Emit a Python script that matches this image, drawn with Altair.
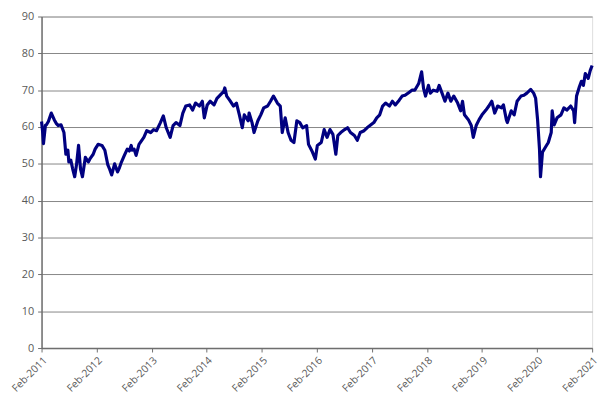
import altair as alt
import pandas as pd

# decimal years (Feb-2011 = 2011.083)
years = [
    2011.083, 2011.101, 2011.118, 2011.154, 2011.172, 2011.207, 2011.260, 2011.313, 2011.349, 2011.384,
    2011.437, 2011.490, 2011.525, 2011.561, 2011.579, 2011.614, 2011.649, 2011.685, 2011.720, 2011.755,
    2011.791, 2011.826, 2011.879, 2011.933, 2011.968, 2012.021, 2012.056, 2012.110, 2012.180, 2012.233,
    2012.287, 2012.322, 2012.357, 2012.410, 2012.464, 2012.499, 2012.534, 2012.587, 2012.640, 2012.676,
    2012.711, 2012.729, 2012.764, 2012.800, 2012.853, 2012.941, 2012.994, 2013.065, 2013.118, 2013.171,
    2013.242, 2013.295, 2013.348, 2013.419, 2013.472, 2013.525, 2013.596, 2013.649, 2013.702, 2013.773,
    2013.826, 2013.879, 2013.950, 2014.003, 2014.039, 2014.092, 2014.145, 2014.216, 2014.269, 2014.322,
    2014.393, 2014.411, 2014.446, 2014.499, 2014.570, 2014.623, 2014.676, 2014.729, 2014.765, 2014.836,
    2014.853, 2014.906, 2014.942, 2015.012, 2015.065, 2015.118, 2015.189, 2015.242, 2015.295, 2015.366,
    2015.419, 2015.455, 2015.508, 2015.561, 2015.614, 2015.667, 2015.720, 2015.773, 2015.826, 2015.897,
    2015.932, 2016.003, 2016.056, 2016.092, 2016.163, 2016.216, 2016.269, 2016.322, 2016.375, 2016.428,
    2016.464, 2016.517, 2016.588, 2016.641, 2016.694, 2016.765, 2016.818, 2016.871, 2016.941, 2016.995,
    2017.048, 2017.118, 2017.171, 2017.225, 2017.278, 2017.331, 2017.402, 2017.455, 2017.508, 2017.579,
    2017.632, 2017.685, 2017.756, 2017.809, 2017.862, 2017.933, 2017.986, 2018.021, 2018.057, 2018.110,
    2018.145, 2018.198, 2018.269, 2018.304, 2018.357, 2018.410, 2018.464, 2018.517, 2018.570, 2018.641,
    2018.694, 2018.729, 2018.764, 2018.835, 2018.888, 2018.924, 2018.977, 2019.030, 2019.083, 2019.154,
    2019.207, 2019.260, 2019.313, 2019.366, 2019.437, 2019.472, 2019.525, 2019.543, 2019.614, 2019.667,
    2019.720, 2019.791, 2019.844, 2019.897, 2019.968, 2020.021, 2020.057, 2020.092, 2020.127, 2020.145,
    2020.181, 2020.234, 2020.287, 2020.340, 2020.357, 2020.393, 2020.446, 2020.517, 2020.570, 2020.623,
    2020.694, 2020.747, 2020.765, 2020.800, 2020.853, 2020.888, 2020.924, 2020.959, 2021.012, 2021.048,
    2021.083,
]

values = [
    61.5, 59.0, 55.5, 60.5, 60.6, 61.5, 63.8, 62.0, 61.0, 60.4,
    60.6, 58.5, 52.6, 53.7, 50.5, 51.0, 48.6, 46.5, 50.0, 55.0,
    48.6, 46.5, 51.8, 50.5, 51.5, 52.6, 54.0, 55.3, 55.0, 53.7,
    49.7, 48.5, 47.0, 50.0, 47.8, 49.0, 50.5, 52.3, 54.0, 53.5,
    55.0, 53.7, 54.0, 52.3, 55.3, 57.2, 59.0, 58.5, 59.3, 59.0,
    61.2, 63.0, 59.8, 57.2, 60.4, 61.2, 60.4, 63.8, 65.7, 66.0,
    64.6, 66.5, 65.7, 67.0, 62.5, 66.0, 67.0, 66.0, 67.8, 68.6,
    69.7, 70.6, 68.4, 67.3, 65.7, 66.5, 63.3, 59.8, 63.3, 61.7,
    63.8, 61.2, 58.5, 61.7, 63.3, 65.2, 65.7, 67.0, 68.4, 66.5,
    65.7, 58.5, 62.5, 58.5, 56.4, 55.8, 61.7, 61.2, 59.8, 60.4,
    55.3, 53.2, 51.3, 55.0, 55.8, 59.3, 57.2, 59.3, 58.0, 52.6,
    57.7, 58.5, 59.3, 59.8, 58.5, 57.7, 56.4, 58.5, 59.0, 59.8,
    60.4, 61.2, 62.5, 63.3, 65.7, 66.5, 65.7, 67.0, 66.0, 67.3,
    68.4, 68.6, 69.4, 70.0, 70.0, 71.8, 75.0, 70.5, 68.4, 71.3,
    69.2, 70.0, 69.7, 71.3, 69.2, 67.0, 69.2, 67.0, 68.4, 66.5,
    64.4, 67.0, 63.3, 62.0, 60.4, 57.2, 60.4, 62.0, 63.3, 64.6,
    65.7, 67.0, 63.8, 65.7, 65.2, 66.0, 62.0, 61.2, 64.4, 63.3,
    67.0, 68.4, 68.6, 69.2, 70.2, 69.2, 67.8, 62.0, 54.0, 46.5,
    53.2, 54.5, 55.8, 58.5, 64.4, 60.6, 62.5, 63.3, 65.2, 64.6,
    65.7, 64.4, 61.2, 68.4, 71.0, 72.4, 71.3, 74.5, 73.2, 75.3,
    76.7,
]

tick_years = [2011.083 + i for i in range(11)]
y_ticks = list(range(0, 100, 10))

df = pd.DataFrame({"t": years, "v": values})

FONT = "Open Sans"
LABEL = "#595959"
GRID = "#868686"
AXIS = "#6e6e6e"

chart = alt.Chart(df).mark_line(color="#000080", strokeWidth=3.2, strokeJoin="round").encode(
    x=alt.X(
        "t:Q",
        scale=alt.Scale(domain=[tick_years[0], tick_years[-1]], nice=False, zero=False),
        axis=alt.Axis(
            title=None,
            values=tick_years,
            labelExpr="'Feb-' + floor(datum.value)",
            labelAngle=-45,
            labelAlign="right",
            labelBaseline="top",
            labelPadding=3,
            labelFont=FONT,
            labelFontSize=10.5,
            labelColor=LABEL,
            labelOverlap=False,
            grid=False,
            domainColor=AXIS,
            domainWidth=1.5,
            tickColor=AXIS,
            tickSize=4,
        ),
    ),
    y=alt.Y(
        "v:Q",
        scale=alt.Scale(domain=[0, 90], nice=False),
        axis=alt.Axis(
            title=None,
            values=y_ticks,
            labelFont=FONT,
            labelFontSize=11,
            labelColor=LABEL,
            labelPadding=4,
            grid=True,
            gridColor=GRID,
            gridWidth=1,
            domainColor=AXIS,
            domainWidth=1.5,
            tickColor=AXIS,
            tickSize=4,
        ),
    ),
).properties(
    width=558,
    height=336,
    autosize=alt.AutoSizeParams(type="none"),
    padding={"left": 34, "top": 6, "right": 10, "bottom": 48},
).configure_view(
    stroke=GRID,
    strokeWidth=1,
).configure(background="white")

chart.save("out.html", embed_options={"renderer": "svg", "actions": False})
